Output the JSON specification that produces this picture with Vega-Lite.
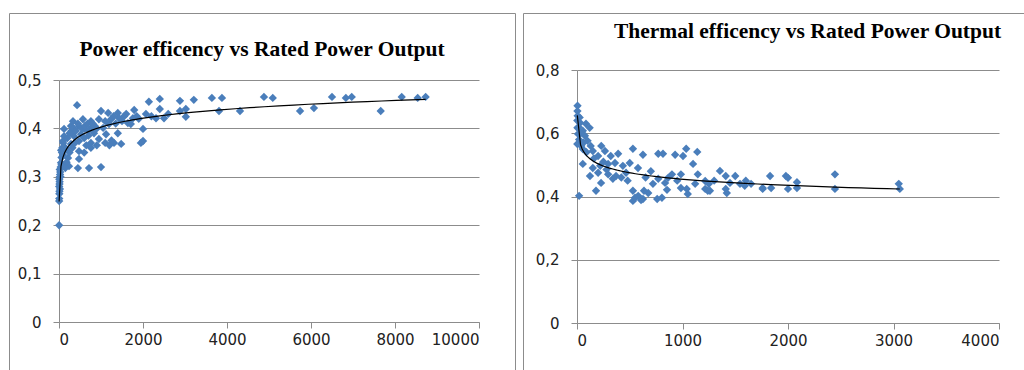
{
  "$schema": "https://vega.github.io/schema/vega-lite/v6.json",
  "padding": {"left": 8, "top": 12, "right": 0, "bottom": 0},
  "spacing": 6,
  "background": "white",
  "config": {
    "view": {"stroke": "#8c8c8c", "strokeWidth": 1},
    "axis": {"gridColor": "#8c8c8c", "domainColor": "#8c8c8c", "tickColor": "#8c8c8c", "tickSize": 6, "labelFont": "DejaVu Sans", "labelFontSize": 15, "labelColor": "#222222", "title": null, "grid": false},
    "axisY": {"grid": true, "labelPadding": 12},
    "axisX": {"labelPadding": 4},
    "title": {"font": "Liberation Serif", "fontWeight": "bold", "fontSize": 21.5, "color": "black"}
  },
  "datasets": {
    "power": [
      {"kw":3,"eff":0.2},{"kw":4,"eff":0.25},{"kw":6,"eff":0.255},{"kw":8,"eff":0.265},{"kw":10,"eff":0.27},{"kw":5,"eff":0.28},{"kw":12,"eff":0.285},{"kw":15,"eff":0.29},{"kw":20,"eff":0.3},{"kw":8,"eff":0.295},{"kw":25,"eff":0.305},{"kw":30,"eff":0.31},{"kw":18,"eff":0.315},{"kw":40,"eff":0.32},{"kw":48,"eff":0.329},{"kw":60,"eff":0.325},{"kw":35,"eff":0.3},{"kw":22,"eff":0.275},
      {"kw":95,"eff":0.374},{"kw":120,"eff":0.399},{"kw":120,"eff":0.384},{"kw":170,"eff":0.357},{"kw":215,"eff":0.339},{"kw":238,"eff":0.322},{"kw":285,"eff":0.405},{"kw":285,"eff":0.368},{"kw":333,"eff":0.415},{"kw":357,"eff":0.384},{"kw":430,"eff":0.448},{"kw":450,"eff":0.318},{"kw":476,"eff":0.405},{"kw":476,"eff":0.374},{"kw":476,"eff":0.353},{"kw":476,"eff":0.337},{"kw":524,"eff":0.388},{"kw":570,"eff":0.419},{"kw":600,"eff":0.399},{"kw":714,"eff":0.318},{"kw":760,"eff":0.415},{"kw":760,"eff":0.401},{"kw":760,"eff":0.37},{"kw":760,"eff":0.36},{"kw":833,"eff":0.39},{"kw":950,"eff":0.419},{"kw":950,"eff":0.378},{"kw":1000,"eff":0.436},{"kw":1000,"eff":0.32},{"kw":1050,"eff":0.401},{"kw":1120,"eff":0.388},{"kw":1170,"eff":0.432},{"kw":1190,"eff":0.409},{"kw":1240,"eff":0.419},{"kw":1310,"eff":0.37},{"kw":1400,"eff":0.432},{"kw":1400,"eff":0.39},{"kw":1430,"eff":0.421},{"kw":1480,"eff":0.368},{"kw":1640,"eff":0.411},{"kw":1710,"eff":0.409},{"kw":1760,"eff":0.421},{"kw":1790,"eff":0.438},{"kw":1950,"eff":0.37},{"kw":2000,"eff":0.374},{"kw":2000,"eff":0.399},{"kw":2070,"eff":0.43},{"kw":2140,"eff":0.455},{"kw":2310,"eff":0.421},{"kw":2400,"eff":0.461},{"kw":2400,"eff":0.44},{"kw":2500,"eff":0.421},{"kw":2880,"eff":0.457},{"kw":2880,"eff":0.436},{"kw":3020,"eff":0.44},{"kw":3020,"eff":0.424},{"kw":3210,"eff":0.459},{"kw":3640,"eff":0.463},{"kw":3810,"eff":0.436},{"kw":3880,"eff":0.463},{"kw":4310,"eff":0.436},{"kw":4880,"eff":0.465},{"kw":5090,"eff":0.463},{"kw":5740,"eff":0.436},{"kw":6070,"eff":0.442},{"kw":6500,"eff":0.465},{"kw":6830,"eff":0.463},{"kw":6970,"eff":0.465},{"kw":7660,"eff":0.436},{"kw":8160,"eff":0.465},{"kw":8540,"eff":0.463},{"kw":8730,"eff":0.465},
      {"kw":150,"eff":0.36},{"kw":200,"eff":0.38},{"kw":250,"eff":0.39},{"kw":300,"eff":0.395},{"kw":350,"eff":0.4},{"kw":400,"eff":0.395},{"kw":450,"eff":0.41},{"kw":550,"eff":0.4},{"kw":620,"eff":0.405},{"kw":680,"eff":0.41},{"kw":700,"eff":0.395},{"kw":800,"eff":0.41},{"kw":850,"eff":0.405},{"kw":900,"eff":0.4},{"kw":1100,"eff":0.415},{"kw":1300,"eff":0.425},{"kw":1350,"eff":0.41},{"kw":1500,"eff":0.415},{"kw":1550,"eff":0.425},{"kw":1600,"eff":0.43},{"kw":1850,"eff":0.425},{"kw":1900,"eff":0.42},{"kw":2200,"eff":0.425},{"kw":2600,"eff":0.43},{"kw":100,"eff":0.345},{"kw":180,"eff":0.33},{"kw":250,"eff":0.35},{"kw":320,"eff":0.36},{"kw":380,"eff":0.37},{"kw":600,"eff":0.38},{"kw":650,"eff":0.365},{"kw":900,"eff":0.365},{"kw":1100,"eff":0.37},{"kw":1200,"eff":0.365},{"kw":1250,"eff":0.375},{"kw":600,"eff":0.35},{"kw":700,"eff":0.385},{"kw":150,"eff":0.318},{"kw":60,"eff":0.34},{"kw":70,"eff":0.35},{"kw":80,"eff":0.36},{"kw":100,"eff":0.37},{"kw":50,"eff":0.355}
    ],
    "thermal": [
      {"kw":20,"eff":0.402},{"kw":5,"eff":0.687},{"kw":4,"eff":0.67},{"kw":6,"eff":0.655},{"kw":3,"eff":0.64},{"kw":30,"eff":0.633},{"kw":4,"eff":0.617},{"kw":85,"eff":0.63},{"kw":120,"eff":0.617},{"kw":55,"eff":0.608},{"kw":10,"eff":0.598},{"kw":75,"eff":0.592},{"kw":3,"eff":0.566},{"kw":100,"eff":0.576},{"kw":130,"eff":0.56},{"kw":55,"eff":0.55},{"kw":150,"eff":0.544},{"kw":230,"eff":0.56},{"kw":265,"eff":0.544},{"kw":200,"eff":0.528},{"kw":320,"eff":0.528},{"kw":390,"eff":0.535},{"kw":530,"eff":0.551},{"kw":625,"eff":0.532},{"kw":770,"eff":0.535},{"kw":815,"eff":0.535},{"kw":55,"eff":0.503},{"kw":150,"eff":0.49},{"kw":220,"eff":0.497},{"kw":295,"eff":0.503},{"kw":360,"eff":0.506},{"kw":435,"eff":0.497},{"kw":500,"eff":0.506},{"kw":578,"eff":0.49},{"kw":123,"eff":0.465},{"kw":200,"eff":0.475},{"kw":295,"eff":0.47},{"kw":370,"eff":0.465},{"kw":465,"eff":0.475},{"kw":228,"eff":0.443},{"kw":340,"eff":0.456},{"kw":180,"eff":0.418},{"kw":530,"eff":0.418},{"kw":580,"eff":0.402},{"kw":675,"eff":0.411},{"kw":720,"eff":0.44},{"kw":770,"eff":0.456},{"kw":835,"eff":0.443},{"kw":625,"eff":0.392},{"kw":530,"eff":0.386},{"kw":550,"eff":0.396},{"kw":607,"eff":0.389},{"kw":635,"eff":0.418},{"kw":760,"eff":0.392},{"kw":805,"eff":0.396},{"kw":853,"eff":0.421},{"kw":930,"eff":0.532},{"kw":1005,"eff":0.528},{"kw":1035,"eff":0.551},{"kw":1140,"eff":0.541},{"kw":1100,"eff":0.503},{"kw":985,"eff":0.47},{"kw":1145,"eff":0.47},{"kw":1120,"eff":0.44},{"kw":1215,"eff":0.449},{"kw":1260,"eff":0.418},{"kw":1050,"eff":0.408},{"kw":985,"eff":0.427},{"kw":1355,"eff":0.481},{"kw":1410,"eff":0.465},{"kw":1500,"eff":0.465},{"kw":1450,"eff":0.443},{"kw":1545,"eff":0.44},{"kw":1590,"eff":0.434},{"kw":1410,"eff":0.424},{"kw":1760,"eff":0.427},{"kw":1830,"eff":0.465},{"kw":1840,"eff":0.427},{"kw":1980,"eff":0.465},{"kw":863,"eff":0.459},{"kw":1040,"eff":0.424},{"kw":1215,"eff":0.424},{"kw":1240,"eff":0.418},{"kw":1420,"eff":0.411},{"kw":1760,"eff":0.424},{"kw":2000,"eff":0.424},{"kw":2085,"eff":0.427},{"kw":2445,"eff":0.424},{"kw":3060,"eff":0.424},{"kw":2445,"eff":0.47},{"kw":3050,"eff":0.44},{"kw":2000,"eff":0.459},{"kw":2085,"eff":0.445},{"kw":1600,"eff":0.45},{"kw":1650,"eff":0.44},{"kw":700,"eff":0.48},{"kw":650,"eff":0.46},{"kw":900,"eff":0.47},{"kw":950,"eff":0.45},{"kw":1250,"eff":0.44},{"kw":1300,"eff":0.45},{"kw":20,"eff":0.58},{"kw":40,"eff":0.56},{"kw":60,"eff":0.57},{"kw":15,"eff":0.62},{"kw":25,"eff":0.65},{"kw":35,"eff":0.6},{"kw":90,"eff":0.54},{"kw":160,"eff":0.52},{"kw":250,"eff":0.51},{"kw":280,"eff":0.485},{"kw":420,"eff":0.46},{"kw":480,"eff":0.45}
    ]
  },
  "hconcat": [
    {
      "width": 506,
      "height": 357,
      "data": {"name": "power"},
      "title": {"text": "Power efficency vs Rated Power Output", "offset": -64.5, "baseline": "alphabetic"},
      "encoding": {
        "x": {"field": "kw", "type": "quantitative", "scale": {"domain": [0, 10000], "range": [50, 470], "nice": false, "zero": false}, "axis": {"values": [0, 2000, 4000, 6000, 8000, 10000], "format": "d", "offset": -48}},
        "y": {"field": "eff", "type": "quantitative", "scale": {"domain": [0, 0.5], "range": [309, 67], "nice": false}, "axis": {"values": [0, 0.1, 0.2, 0.3, 0.4, 0.5], "labelExpr": "datum.value == 0 ? '0' : replace(format(datum.value, '.1f'), '.', ',')", "offset": -50}}
      },
      "layer": [
        {"mark": {"type": "point", "shape": "diamond", "filled": true, "size": 70, "color": "#4a7ebb", "opacity": 1}},
        {"transform": [{"regression": "eff", "on": "kw", "method": "log"}], "mark": {"type": "line", "color": "black", "strokeWidth": 1.2}}
      ]
    },
    {
      "width": 503,
      "height": 357,
      "data": {"name": "thermal"},
      "title": {"text": "Thermal efficency vs Rated Power Output", "offset": -46.5, "dx": 33, "baseline": "alphabetic"},
      "encoding": {
        "x": {"field": "kw", "type": "quantitative", "scale": {"domain": [0, 4000], "range": [54, 476], "nice": false, "zero": false}, "axis": {"values": [0, 1000, 2000, 3000, 4000], "format": "d", "offset": -47}},
        "y": {"field": "eff", "type": "quantitative", "scale": {"domain": [0, 0.8], "range": [310, 57], "nice": false}, "axis": {"values": [0, 0.2, 0.4, 0.6, 0.8], "labelExpr": "datum.value == 0 ? '0' : replace(format(datum.value, '.1f'), '.', ',')", "offset": -54}}
      },
      "layer": [
        {"mark": {"type": "point", "shape": "diamond", "filled": true, "size": 70, "color": "#4a7ebb", "opacity": 1}},
        {"transform": [{"regression": "eff", "on": "kw", "method": "pow"}], "mark": {"type": "line", "color": "black", "strokeWidth": 1.2}}
      ]
    }
  ]
}
